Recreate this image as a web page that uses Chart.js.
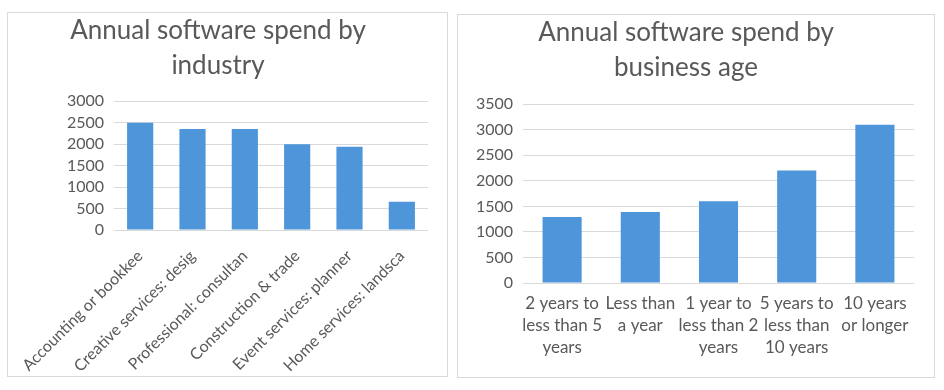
<!DOCTYPE html>
<html>
<head>
<meta charset="utf-8">
<script src="https://cdn.jsdelivr.net/npm/chart.js@4/dist/chart.umd.min.js"></script>
<style>
  html, body { margin: 0; padding: 0; background: #fff; }
  body { width: 944px; height: 390px; position: relative; overflow: hidden; }
  .panel { position: absolute; border: 1px solid #d9d9d9; background: #fff; }
  #p1 { left: 7px; top: 12px; width: 439px; height: 363px; }
  #p2 { left: 457px; top: 14px; width: 476px; height: 362px; }
</style>
</head>
<body>
<div class="panel" id="p1"><canvas id="industry"></canvas></div>
<div class="panel" id="p2"><canvas id="age"></canvas></div>
<script>
// data
const industryLabels = [
  'Accounting or bookkee',
  'Creative services: desig',
  'Professional: consultan',
  'Construction & trade',
  'Event services: planner',
  'Home services: landsca',
];
const industrySpend = [2500, 2350, 2350, 2000, 1940, 660];
const industryTicks = [0, 500, 1000, 1500, 2000, 2500, 3000];

const ageLabels = [
  ['2 years to', 'less than 5', 'years'],
  ['Less than', 'a year'],
  ['1 year to', 'less than 2', 'years'],
  ['5 years to', 'less than', '10 years'],
  ['10 years', 'or longer'],
];
const ageSpend = [1290, 1390, 1600, 2200, 3100];
const ageTicks = [0, 500, 1000, 1500, 2000, 2500, 3000, 3500];

const FONT = 'Lato, "Open Sans", sans-serif';
const TEXT = '#595959';
const GRID = '#d9d9d9';
const BAR = '#4e95d9';

Chart.defaults.font.family = FONT;
Chart.defaults.color = TEXT;

function barChart(canvas, cfg) {
  return new Chart(canvas, {
    type: 'bar',
    data: {
      labels: cfg.labels,
      datasets: [{
        data: cfg.values,
        backgroundColor: BAR,
        borderWidth: 0,
        barPercentage: 1,
        categoryPercentage: 0.5,
      }],
    },
    options: {
      responsive: true,
      maintainAspectRatio: false,
      animation: false,
      layout: { padding: cfg.padding },
      plugins: {
        legend: { display: false },
        tooltip: { enabled: false },
        title: {
          display: true,
          text: cfg.title,
          color: TEXT,
          font: { size: 26, weight: 'normal', lineHeight: 1.35 },
          padding: cfg.titlePadding,
        },
      },
      scales: {
        x: {
          grid: { display: false, drawTicks: false },
          border: { display: false },
          ticks: {
            color: TEXT,
            font: { size: cfg.xFont, lineHeight: 1.3 },
            padding: cfg.xPad,
            autoSkip: false,
            maxRotation: cfg.rotation,
            minRotation: cfg.rotation,
          },
          afterFit: (s) => {
            s.height = cfg.xHeight;
            s.paddingLeft = 0;
            s.paddingRight = 0;
          },
        },
        y: {
          min: 0,
          max: cfg.ticks[cfg.ticks.length - 1],
          afterBuildTicks: (s) => { s.ticks = cfg.ticks.map((v) => ({ value: v })); },
          grid: { color: GRID, lineWidth: 1, drawTicks: false },
          border: { display: false },
          ticks: {
            color: TEXT,
            font: { size: 16 },
            padding: 10,
            autoSkip: false,
            callback: (v) => String(v),
          },
          afterFit: (s) => { s.width = cfg.yWidth; },
        },
      },
    },
  });
}

barChart(document.getElementById('industry'), {
  labels: industryLabels,
  values: industrySpend,
  ticks: industryTicks,
  title: ['Annual software spend by', 'industry'],
  titlePadding: { top: 0, bottom: 18 },
  padding: { left: 0, right: 19, top: 0, bottom: 0 },
  yWidth: 106,
  xHeight: 146,
  xPad: 16,
  xFont: 16,
  rotation: 45,
});

barChart(document.getElementById('age'), {
  labels: ageLabels,
  values: ageSpend,
  ticks: ageTicks,
  title: ['Annual software spend by', 'business age'],
  titlePadding: { top: 0, bottom: 19 },
  padding: { left: 0, right: 20, top: 0, bottom: 0 },
  yWidth: 65,
  xHeight: 94,
  xPad: 9,
  xFont: 17,
  rotation: 0,
});
</script>
</body>
</html>
